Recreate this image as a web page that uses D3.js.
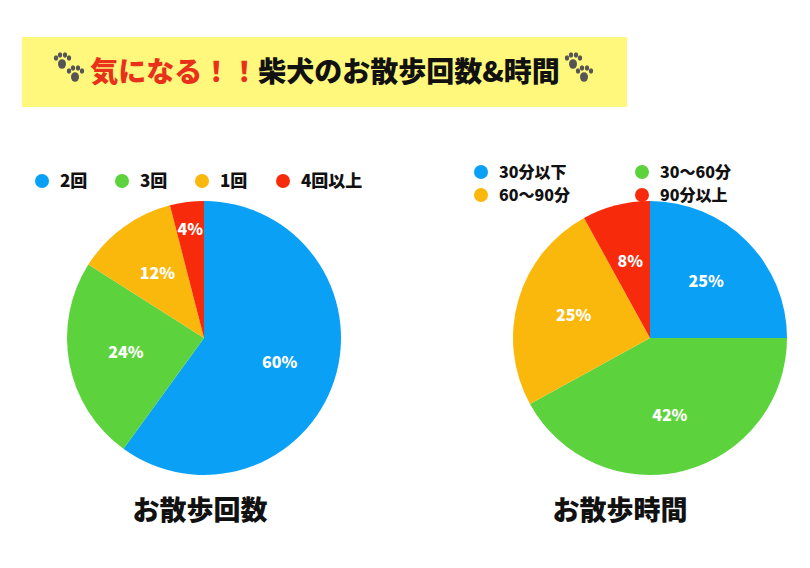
<!DOCTYPE html><html><head><meta charset="utf-8">
<script src="https://cdn.jsdelivr.net/npm/d3@7"></script>
<style>body{margin:0;background:#fff}svg{display:block}text{font-family:"Noto Sans CJK JP",sans-serif;font-weight:900}</style>
</head><body><svg id="c" width="810" height="568"></svg><script>
const countLabels=["2回","3回","1回","4回以上"];
const countValues=[60,24,12,4];
const timeLabels=["30分以下","30〜60分","60〜90分","90分以上"];
const timeValues=[25,42,25,8];
const colors=["#0aa0f6","#5cd33d","#fbb80c","#f72b0c"];
const svg=d3.select("#c");
svg.append("rect").attr("x",22).attr("y",37).attr("width",605).attr("height",70).attr("fill","#fff87c");
function paw(x,y){const g=svg.append("g").attr("transform",`translate(${x},${y})`).attr("fill","#555");
 [[0,0,4],[ -6,-6,2.2],[-2,-9,2.2],[3,-9,2.2],[7,-6,2.2]].forEach(p=>g.append("ellipse").attr("cx",p[0]).attr("cy",p[1]).attr("rx",p[2]).attr("ry",p[2]*1.2));}
paw(62,64);paw(75,77);paw(573,64);paw(584,77);
const t=svg.append("text").attr("x",325).attr("y",82).attr("text-anchor","middle").attr("font-size",28);
t.append("tspan").attr("fill","#e8301a").text("気になる！！");
t.append("tspan").attr("fill","#111").text("柴犬のお散歩回数&時間");
function pie(cx,cy,r,vals){
 const arcs=d3.pie().sort(null)(vals);
 const arc=d3.arc().innerRadius(0).outerRadius(r);
 const g=svg.append("g").attr("transform",`translate(${cx},${cy})`);
 g.selectAll("path").data(arcs).join("path").attr("d",arc).attr("fill",(d,i)=>colors[i]);
 const la=d3.arc().innerRadius(r*0.58).outerRadius(r*0.58);
 const lb=d3.arc().innerRadius(r*0.8).outerRadius(r*0.8);
 g.selectAll("text").data(arcs).join("text").attr("transform",d=>`translate(${(d.data<6?lb:la).centroid(d)})`)
  .attr("text-anchor","middle").attr("dy","0.35em").attr("fill","#fff").attr("font-size",16).text(d=>d.data+"%");
}
pie(204,338,137,countValues);
pie(650,338,137,timeValues);
const lx=[42,122,202,283];
countLabels.forEach((l,i)=>{svg.append("circle").attr("cx",lx[i]).attr("cy",181).attr("r",7).attr("fill",colors[i]);
 svg.append("text").attr("x",lx[i]+18).attr("y",187).attr("font-size",17).attr("fill","#111").text(l);});
const tp=[[481,172],[642,172],[481,195],[642,195]];
timeLabels.forEach((l,i)=>{svg.append("circle").attr("cx",tp[i][0]).attr("cy",tp[i][1]).attr("r",7).attr("fill",colors[i]);
 svg.append("text").attr("x",tp[i][0]+18).attr("y",tp[i][1]+6).attr("font-size",16).attr("fill","#111").text(l);});
svg.append("text").attr("x",200).attr("y",520).attr("text-anchor","middle").attr("font-size",27).attr("fill","#111").text("お散歩回数");
svg.append("text").attr("x",620).attr("y",520).attr("text-anchor","middle").attr("font-size",27).attr("fill","#111").text("お散歩時間");
</script></body></html>
